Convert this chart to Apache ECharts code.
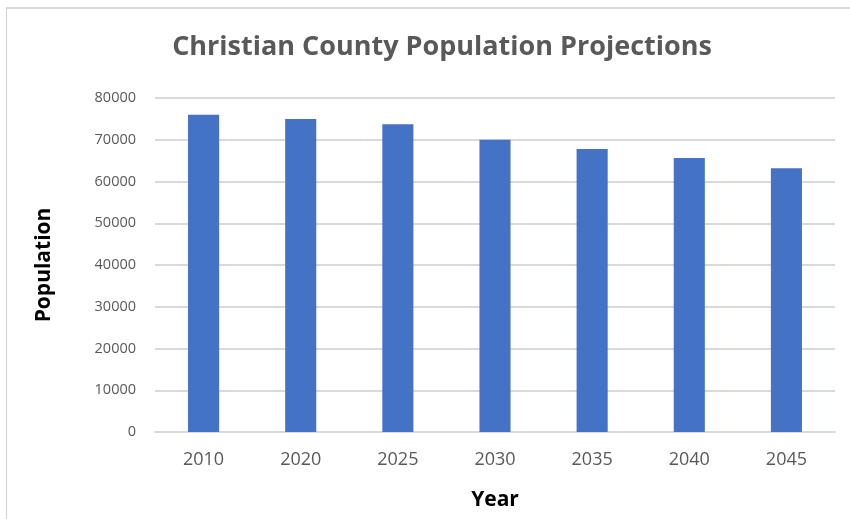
<!DOCTYPE html>
<html>
<head>
<meta charset="utf-8">
<script src="https://cdn.jsdelivr.net/npm/echarts@6/dist/echarts.min.js"></script>
<style>
  html, body { margin: 0; padding: 0; background: #fff; }
  #chart { position: absolute; left: 0; top: 0; width: 850px; height: 519px; }
  .frame { position: absolute; left: 6px; top: 7px; width: 850px; height: 520px;
           border-left: 1px solid #d0d0d0; border-top: 2px solid #d9d9d9; }
</style>
</head>
<body>
<div class="frame"></div>
<div id="chart"></div>
<script>
// chart data
var years = ["2010", "2020", "2025", "2030", "2035", "2040", "2045"];
var population = [76000, 75000, 73700, 70000, 67800, 65600, 63200];
var yTicks = { min: 0, max: 80000, interval: 10000 };

var myChart = echarts.init(document.getElementById("chart"));

var option = {
  animation: false,
  title: {
    text: "Christian County Population Projections",
    left: 437,
    top: 29,
    textAlign: "center",
    textStyle: {
      fontFamily: "Open Sans",
      fontSize: 27,
      fontWeight: "bold",
      color: "#595959"
    }
  },
  grid: {
    left: 155,
    right: 15,
    top: 98,
    bottom: 87
  },
  xAxis: {
    type: "category",
    data: years,
    name: "Year",
    nameLocation: "middle",
    nameGap: 58,
    nameTextStyle: {
      fontFamily: "Open Sans",
      fontSize: 21,
      fontWeight: "bold",
      color: "#000"
    },
    axisLine: { lineStyle: { color: "#d9d9d9", width: 2 } },
    axisTick: { show: false },
    axisLabel: {
      margin: 19,
      fontFamily: "Open Sans",
      fontSize: 18,
      color: "#595959"
    }
  },
  yAxis: {
    type: "value",
    min: yTicks.min,
    max: yTicks.max,
    interval: yTicks.interval,
    name: "Population",
    nameLocation: "middle",
    nameGap: 100,
    nameRotate: 90,
    nameTextStyle: {
      fontFamily: "Open Sans",
      fontSize: 21,
      fontWeight: "bold",
      color: "#000"
    },
    axisLine: { show: false },
    axisTick: { show: false },
    axisLabel: {
      margin: 19,
      fontFamily: "Open Sans",
      fontSize: 14.5,
      color: "#595959",
      formatter: function (v) { return String(v); }
    },
    splitLine: { lineStyle: { color: "#d9d9d9", width: 2 } }
  },
  series: [
    {
      name: "Population",
      type: "bar",
      data: population,
      barWidth: "32%",
      itemStyle: { color: "#4472c4" }
    }
  ]
};

myChart.setOption(option);
</script>
</body>
</html>
